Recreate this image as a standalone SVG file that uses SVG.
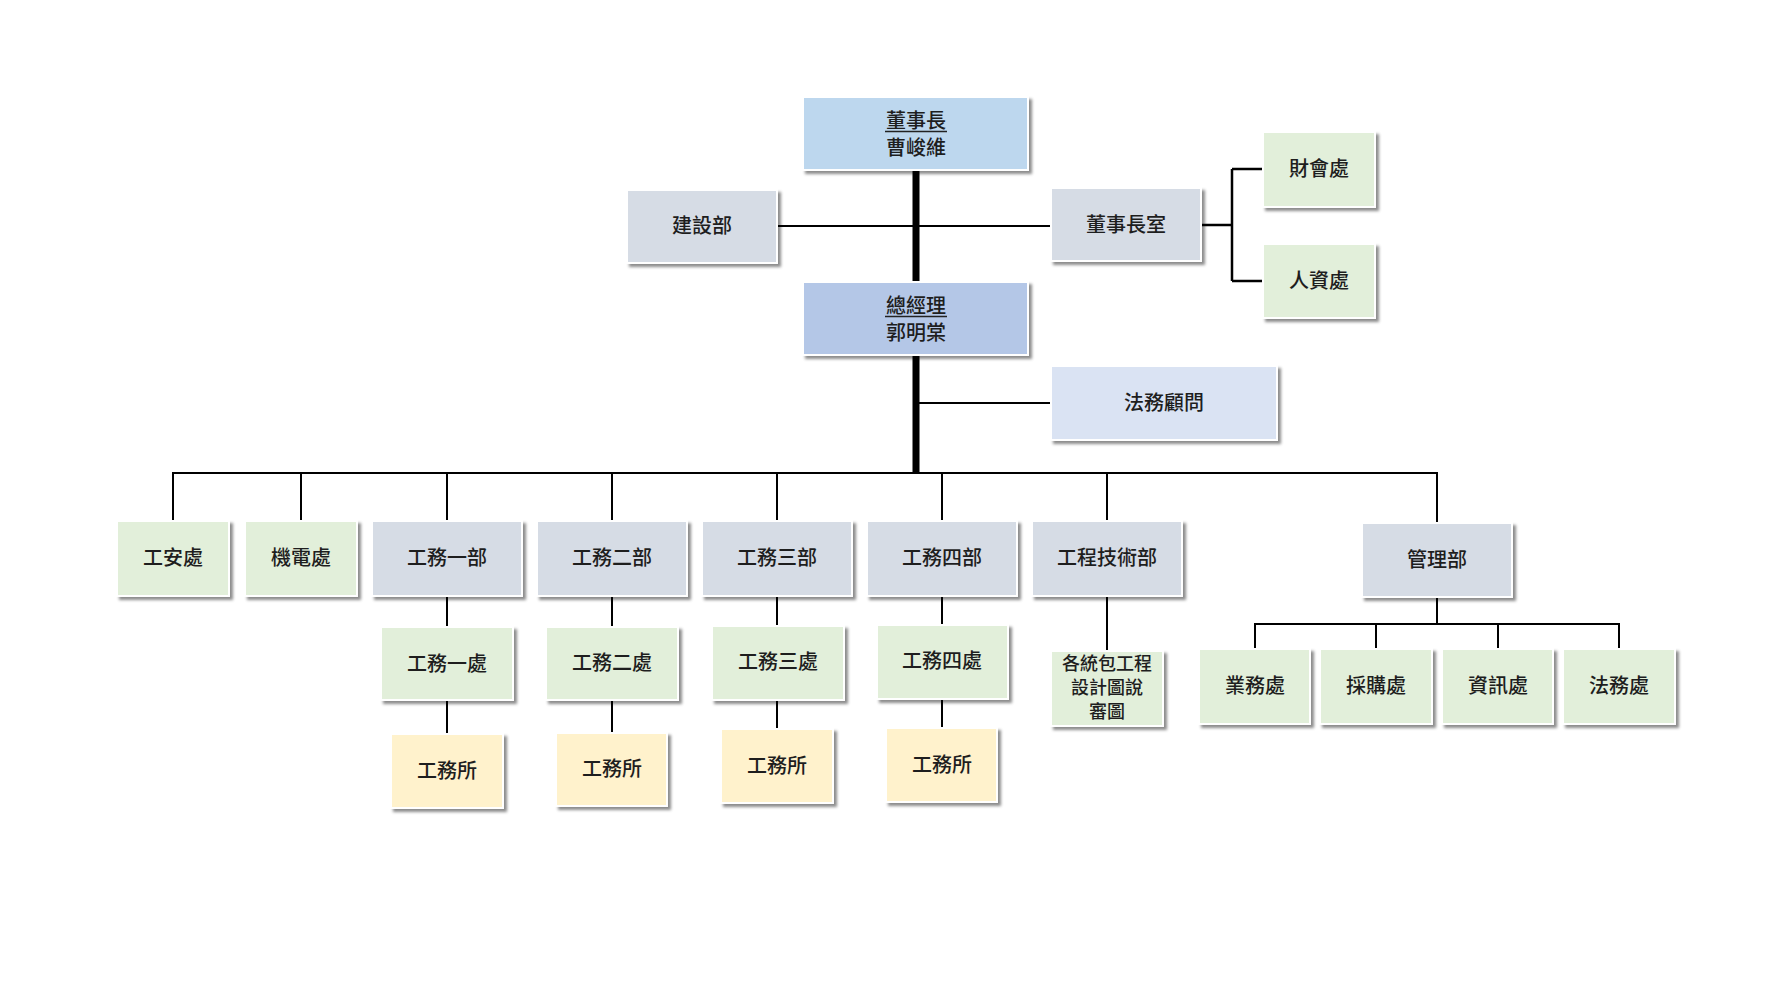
<svg xmlns="http://www.w3.org/2000/svg" width="1792" height="1008" viewBox="0 0 1792 1008">
<defs>
<filter id="sh" x="-10%" y="-10%" width="130%" height="140%">
<feDropShadow dx="3" dy="3" stdDeviation="1.6" flood-color="#000" flood-opacity="0.45"/>
</filter>
<style>
.b{stroke:#fff;stroke-width:2;filter:url(#sh)}
.blue{fill:#BDD7EE}.blue2{fill:#B4C7E7}.gray{fill:#D6DCE5}.lb{fill:#DAE3F3}.green{fill:#E2EFDA}.yel{fill:#FFF2CC}
text{font-family:"Noto Sans CJK TC","Noto Sans CJK SC",sans-serif;font-size:20px;font-weight:500;fill:#1e1e1e;text-anchor:middle;dominant-baseline:central}
.sm{font-size:18px}
.c{stroke:#000;stroke-width:2;fill:none}
.ck{stroke:#000;stroke-width:7;fill:none}
</style>
</defs>
<rect width="1792" height="1008" fill="#fff"/>
<g id="connectors">
<path class="ck" d="M916 170V473"/>
<path class="c" d="M777 226H1051"/>
<path class="c" style="stroke-width:2.5" d="M1201 225H1232M1232 169V281M1232 169H1263M1232 281H1263"/>
<path class="c" d="M916 403H1051"/>
<path class="c" d="M172 473H1438"/>
<path class="c" d="M173 473V521M301 473V521M447 473V521M612 473V521M777 473V521M942 473V521M1107 473V521M1437 473V523"/>
<path class="c" d="M447 596V627M447 700V734M612 596V627M612 700V733M777 596V626M777 700V729M942 596V625M942 699V728M1107 596V651"/>
<path class="c" d="M1437 597V624M1254 624H1620M1255 624V649M1376 624V649M1498 624V649M1619 624V649"/>
</g>
<g id="chairman"><rect class="b blue" x="803" y="97" width="225" height="73"/><text x="916" y="119">董事長</text><text x="916" y="146">曹峻維</text><path d="M885 131.5H947" stroke="#222" stroke-width="1.5"/></g>
<g id="jianshe"><rect class="b gray" x="627" y="190" width="150" height="73"/><text x="702" y="224">建設部</text></g>
<g id="chairman_office"><rect class="b gray" x="1051" y="188" width="150" height="73"/><text x="1126" y="223">董事長室</text></g>
<g id="caihui"><rect class="b green" x="1263" y="132" width="112" height="75"/><text x="1319" y="167">財會處</text></g>
<g id="renzi"><rect class="b green" x="1263" y="244" width="112" height="74"/><text x="1319" y="279">人資處</text></g>
<g id="gm"><rect class="b blue2" x="803" y="282" width="225" height="73"/><text x="916" y="304">總經理</text><text x="916" y="331">郭明棠</text><path d="M885 316.5H947" stroke="#222" stroke-width="1.5"/></g>
<g id="legal_advisor"><rect class="b lb" x="1051" y="366" width="226" height="74"/><text x="1164" y="401">法務顧問</text></g>
<g id="gongan"><rect class="b green" x="117" y="521" width="112" height="75"/><text x="173" y="556">工安處</text></g>
<g id="jidian"><rect class="b green" x="245" y="521" width="112" height="75"/><text x="301" y="556">機電處</text></g>
<g id="gw1"><rect class="b gray" x="372" y="521" width="150" height="75"/><text x="447" y="556">工務一部</text></g>
<g id="gw2"><rect class="b gray" x="537" y="521" width="150" height="75"/><text x="612" y="556">工務二部</text></g>
<g id="gw3"><rect class="b gray" x="702" y="521" width="150" height="75"/><text x="777" y="556">工務三部</text></g>
<g id="gw4"><rect class="b gray" x="867" y="521" width="150" height="75"/><text x="942" y="556">工務四部</text></g>
<g id="eng"><rect class="b gray" x="1032" y="521" width="150" height="75"/><text x="1107" y="556">工程技術部</text></g>
<g id="mgmt"><rect class="b gray" x="1362" y="523" width="150" height="74"/><text x="1437" y="558">管理部</text></g>
<g id="gw1c"><rect class="b green" x="381" y="627" width="132" height="73"/><text x="447" y="662">工務一處</text></g>
<g id="gw2c"><rect class="b green" x="546" y="627" width="132" height="73"/><text x="612" y="661">工務二處</text></g>
<g id="gw3c"><rect class="b green" x="712" y="626" width="132" height="74"/><text x="778" y="660">工務三處</text></g>
<g id="gw4c"><rect class="b green" x="877" y="625" width="131" height="74"/><text x="942" y="659">工務四處</text></g>
<g id="eng_c"><rect class="b green" x="1051" y="651" width="112" height="75"/><text class="sm" x="1107" y="662">各統包工程</text><text class="sm" x="1107" y="686">設計圖說</text><text class="sm" x="1107" y="710">審圖</text></g>
<g id="ws1"><rect class="b yel" x="391" y="734" width="112" height="74"/><text x="447" y="769">工務所</text></g>
<g id="ws2"><rect class="b yel" x="556" y="733" width="111" height="73"/><text x="612" y="767">工務所</text></g>
<g id="ws3"><rect class="b yel" x="721" y="729" width="112" height="74"/><text x="777" y="764">工務所</text></g>
<g id="ws4"><rect class="b yel" x="886" y="728" width="111" height="74"/><text x="942" y="763">工務所</text></g>
<g id="yewu"><rect class="b green" x="1199" y="649" width="111" height="75"/><text x="1255" y="684">業務處</text></g>
<g id="caigou"><rect class="b green" x="1320" y="649" width="112" height="75"/><text x="1376" y="684">採購處</text></g>
<g id="zixun"><rect class="b green" x="1442" y="649" width="111" height="75"/><text x="1498" y="684">資訊處</text></g>
<g id="fawu"><rect class="b green" x="1563" y="649" width="112" height="75"/><text x="1619" y="684">法務處</text></g>
</svg>
